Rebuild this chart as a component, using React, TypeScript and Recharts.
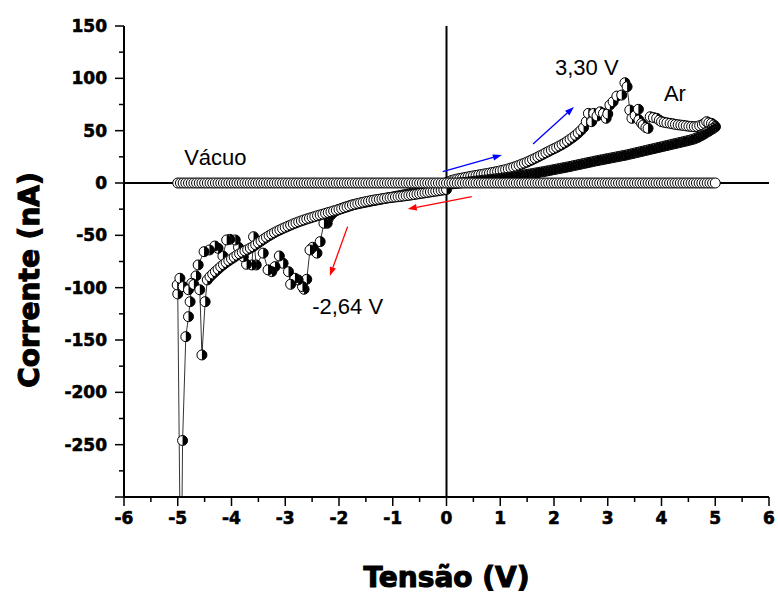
import {
  ScatterChart,
  Scatter,
  XAxis,
  YAxis,
  ReferenceLine,
  ReferenceDot,
  Label
} from 'recharts';

// tick values
const xTicks = [-6, -5.5, -5, -4.5, -4, -3.5, -3, -2.5, -2, -1.5, -1, -0.5, 0, 0.5, 1, 1.5, 2, 2.5, 3, 3.5, 4, 4.5, 5, 5.5, 6];
const yTicks = [-300, -275, -250, -225, -200, -175, -150, -125, -100, -75, -50, -25, 0, 25, 50, 75, 100, 125, 150];

// Vácuo: flat at 0 nA over the whole sweep
const vacuumV = [
  -5, -4.95, -4.9, -4.85, -4.8, -4.75, -4.7, -4.65, -4.6, -4.55, -4.5, -4.45, -4.4, -4.35, -4.3, -4.25, -4.2, -4.15, -4.1, -4.05,
  -4, -3.95, -3.9, -3.85, -3.8, -3.75, -3.7, -3.65, -3.6, -3.55, -3.5, -3.45, -3.4, -3.35, -3.3, -3.25, -3.2, -3.15, -3.1, -3.05,
  -3, -2.95, -2.9, -2.85, -2.8, -2.75, -2.7, -2.65, -2.6, -2.55, -2.5, -2.45, -2.4, -2.35, -2.3, -2.25, -2.2, -2.15, -2.1, -2.05,
  -2, -1.95, -1.9, -1.85, -1.8, -1.75, -1.7, -1.65, -1.6, -1.55, -1.5, -1.45, -1.4, -1.35, -1.3, -1.25, -1.2, -1.15, -1.1, -1.05,
  -1, -0.95, -0.9, -0.85, -0.8, -0.75, -0.7, -0.65, -0.6, -0.55, -0.5, -0.45, -0.4, -0.35, -0.3, -0.25, -0.2, -0.15, -0.1, -0.05,
  0, 0.05, 0.1, 0.15, 0.2, 0.25, 0.3, 0.35, 0.4, 0.45, 0.5, 0.55, 0.6, 0.65, 0.7, 0.75, 0.8, 0.85, 0.9, 0.95,
  1, 1.05, 1.1, 1.15, 1.2, 1.25, 1.3, 1.35, 1.4, 1.45, 1.5, 1.55, 1.6, 1.65, 1.7, 1.75, 1.8, 1.85, 1.9, 1.95,
  2, 2.05, 2.1, 2.15, 2.2, 2.25, 2.3, 2.35, 2.4, 2.45, 2.5, 2.55, 2.6, 2.65, 2.7, 2.75, 2.8, 2.85, 2.9, 2.95,
  3, 3.05, 3.1, 3.15, 3.2, 3.25, 3.3, 3.35, 3.4, 3.45, 3.5, 3.55, 3.6, 3.65, 3.7, 3.75, 3.8, 3.85, 3.9, 3.95,
  4, 4.05, 4.1, 4.15, 4.2, 4.25, 4.3, 4.35, 4.4, 4.45, 4.5, 4.55, 4.6, 4.65, 4.7, 4.75, 4.8, 4.85, 4.9, 4.95, 5
];
const vacuumCurrent = 0;

// Ar, sweep 0 -> +5 V (upper branch, peak at 3,30 V)
const arFwdPosV = [
  0, 0.05, 0.1, 0.15, 0.2, 0.25, 0.3, 0.35, 0.4, 0.45, 0.5, 0.55, 0.6, 0.65, 0.7, 0.75, 0.8, 0.85, 0.9, 0.95,
  1, 1.05, 1.1, 1.15, 1.2, 1.25, 1.3, 1.35, 1.4, 1.45, 1.5, 1.55, 1.6, 1.65, 1.7, 1.75, 1.8, 1.85, 1.9, 1.95,
  2, 2.05, 2.1, 2.15, 2.2, 2.25, 2.3, 2.35, 2.4, 2.45, 2.5, 2.55,
  2.6, 2.64, 2.7, 2.74, 2.8, 2.86, 2.92, 2.97, 3, 3.04, 3.1, 3.17, 3.26, 3.32, 3.36, 3.41, 3.45, 3.51, 3.57, 3.58,
  3.63, 3.66, 3.71, 3.75, 3.79, 3.85, 3.91, 3.96, 4, 4.05, 4.1, 4.16, 4.21, 4.26, 4.31, 4.36, 4.41, 4.46, 4.51, 4.56,
  4.61, 4.66, 4.71, 4.76, 4.8, 4.84, 4.88, 4.93, 4.97, 5
];
const arFwdPosI = [
  0.5, 1.5, 2.5, 3.2, 3.8, 4.3, 4.8, 5.3, 5.8, 6.3, 6.8, 7.2, 7.7, 8.1, 8.6, 9, 9.5, 10, 10.5, 11,
  11.6, 12.2, 12.8, 13.5, 14.3, 15.1, 16, 17, 18, 19, 20, 21.2, 22.4, 23.6, 24.9, 26.2, 27.5, 28.9, 30.2, 31.5,
  32.8, 34, 35.4, 36.8, 38.3, 40, 41.8, 43.6, 45.6, 47.8, 50.2, 53,
  58.6, 66.5, 58.6, 66.5, 64, 68, 66.5, 61.8, 66, 74.5, 77.7, 83, 84, 95.8, 92, 69.7, 61.8, 64.5, 70.4, 60.2,
  57, 55.4, 53, 52.2, 63.3, 62.5, 61.8, 60, 58.6, 58, 57.5, 57, 56.5, 56, 55.6, 55.3, 55, 54.6, 54.2, 54,
  53.8, 54, 54.8, 55.6, 57, 58.6, 57.5, 57, 55.5, 54
];

// Ar, sweep +5 -> 0 V (lower branch)
const arRetPosV = [
  5, 4.96, 4.92, 4.88, 4.84, 4.8, 4.76, 4.72, 4.68, 4.64, 4.6, 4.55, 4.5, 4.45, 4.4, 4.35, 4.3, 4.25, 4.2, 4.15,
  4.1, 4.05, 4, 3.95, 3.9, 3.85, 3.8, 3.75, 3.7, 3.65, 3.6, 3.55, 3.5, 3.45, 3.4, 3.35, 3.3, 3.25, 3.2, 3.15,
  3.1, 3.05, 3, 2.95, 2.9, 2.85, 2.8, 2.75, 2.7, 2.65, 2.6, 2.55, 2.5, 2.45, 2.4, 2.35, 2.3, 2.25, 2.2, 2.15,
  2.1, 2.05, 2, 1.95, 1.9, 1.85, 1.8, 1.75, 1.7, 1.65, 1.6, 1.55, 1.5, 1.45, 1.4, 1.35, 1.3, 1.25, 1.2, 1.15,
  1.1, 1.05, 1, 0.95, 0.9, 0.85, 0.8, 0.75, 0.7, 0.65, 0.6, 0.55, 0.5, 0.45, 0.4, 0.35, 0.3, 0.25, 0.2, 0.15,
  0.1, 0.05, 0
];
const arRetPosI = [
  53.5, 52, 50.8, 49.5, 48.5, 47, 45.8, 44.8, 43.6, 42.8, 42, 41.3, 40.6, 40, 39.4, 38.8, 38.2, 37.6, 37, 36.4,
  35.8, 35.2, 34.6, 34, 33.4, 32.8, 32.2, 31.6, 31, 30.4, 29.8, 29.2, 28.6, 28, 27.4, 26.8, 26.3, 25.8, 25.3, 24.8,
  24.3, 23.8, 23.3, 22.8, 22.3, 21.8, 21.3, 20.8, 20.2, 19.7, 19.1, 18.6, 18, 17.5, 16.9, 16.4, 15.8, 15.3, 14.8, 14.3,
  13.8, 13.3, 12.8, 12.3, 11.8, 11.3, 10.8, 10.4, 9.9, 9.5, 9, 8.6, 8.2, 7.8, 7.4, 7, 6.6, 6.2, 5.8, 5.5,
  5.1, 4.8, 4.5, 4.2, 3.9, 3.6, 3.3, 3, 2.7, 2.4, 2.1, 1.8, 1.5, 1.2, 0.9, 0.6, 0.3, 0, -0.3, -0.6,
  -0.9, -1.2, -1.5
];

// Ar, sweep 0 -> -5 V (noisy branch, minimum near -2,64 V)
const arFwdNegV = [
  0, -0.05, -0.1, -0.15, -0.2, -0.25, -0.3, -0.35, -0.4, -0.45, -0.5, -0.55, -0.6, -0.65, -0.7, -0.75, -0.8, -0.85, -0.9, -0.95,
  -1, -1.05, -1.1, -1.15, -1.2, -1.25, -1.3, -1.35, -1.4, -1.45, -1.5, -1.55, -1.6, -1.65, -1.7, -1.75, -1.8, -1.85, -1.9, -1.95,
  -2, -2.05, -2.1, -2.15, -2.2,
  -2.22, -2.28, -2.35, -2.41, -2.49, -2.54, -2.6, -2.65, -2.68, -2.76, -2.82, -2.9, -2.94, -3.04, -3.11, -3.19, -3.25, -3.32, -3.41, -3.54,
  -3.59, -3.62, -3.72, -3.78, -3.87, -3.93, -4.03, -4.09, -4.16, -4.25, -4.31, -4.41, -4.51, -4.62, -4.66, -4.74, -4.77, -4.8, -4.85, -4.91,
  -4.94, -5, -5.01, -4.96
];
const arFwdNegI = [
  -1, -2, -3, -3.8, -4.6, -5.3, -6, -6.6, -7.2, -7.8, -8.3, -8.8, -9.3, -9.8, -10.3, -10.8, -11.3, -11.8, -12.3, -12.8,
  -13.3, -13.8, -14.3, -14.8, -15.3, -15.8, -16.3, -16.8, -17.3, -17.8, -18.3, -18.8, -19.3, -19.8, -20.4, -21, -21.7, -22.5, -23.3, -24.2,
  -25.2, -26.4, -28, -30.5, -34,
  -38.5, -38.5, -56, -67, -61.4, -64, -92, -101.5, -99, -92.6, -91, -96.8, -84.7, -76.7, -69.7, -79.9, -84.7, -83, -67, -78.3,
  -51.3, -78.3, -77.7, -70.4, -61.4, -54.4, -53.8, -54.4, -69.7, -62.4, -60.2, -64, -65.6, -78.3, -88.8, -95.8, -113.4, -127.7, -146.8, -246,
  -420, -106, -97.4, -91
];

// Ar, sweep -5 -> 0 V (smooth branch)
const arRetNegV = [
  -4.9, -4.8, -4.7, -4.59, -4.55, -4.49, -4.45,
  -4.4, -4.35, -4.3, -4.25, -4.2, -4.15, -4.1, -4.05, -4, -3.95, -3.9, -3.85, -3.8, -3.75, -3.7, -3.65, -3.6, -3.55, -3.5, -3.45,
  -3.4, -3.35, -3.3, -3.25, -3.2, -3.15, -3.1, -3.05, -3, -2.95, -2.9, -2.85, -2.8, -2.75, -2.7, -2.65, -2.6, -2.55, -2.5, -2.45,
  -2.4, -2.35, -2.3, -2.25, -2.2, -2.15, -2.1, -2.05, -2, -1.95, -1.9, -1.85, -1.8, -1.75, -1.7, -1.65, -1.6, -1.55, -1.5, -1.45,
  -1.4, -1.35, -1.3, -1.25, -1.2, -1.15, -1.1, -1.05, -1, -0.95, -0.9, -0.85, -0.8, -0.75, -0.7, -0.65, -0.6, -0.55, -0.5, -0.45,
  -0.4, -0.35, -0.3, -0.25, -0.2, -0.15, -0.1, -0.05, 0
];
const arRetNegI = [
  -99, -102, -97, -102, -164.3, -113.4, -92.6,
  -89.5, -87, -84.6, -82.3, -80, -78, -76, -74.2, -72.5, -70.8, -69, -67.6, -66.2, -64.9, -63.6, -62.2, -60.8, -59, -57.2, -55.4,
  -53.6, -51.9, -50.3, -48.8, -47.4, -46, -44.8, -43.6, -42.4, -41.3, -40.2, -39.1, -38.1, -37.1, -36.2, -35.3, -34.4, -33.6, -32.8, -32,
  -31.2, -30.5, -29.8, -29, -28.2, -27.5, -26.7, -26, -25.2, -24.5, -23.6, -22.8, -21.9, -21, -20.3, -19.6, -19, -18.4, -17.8, -17.3,
  -16.8, -16.3, -15.9, -15.5, -15.1, -14.7, -14.3, -14, -13.7, -13.4, -13.1, -12.8, -12.5, -12.1, -11.8, -11.4, -11, -10.6, -10.2, -9.8,
  -9.4, -9, -8.6, -8.2, -7.8, -7.4, -7, -6.6, -6.2
];

const pair = (vs: number[], is: number[]) => vs.map((v, k) => ({ v, i: is[k] }));

const arData = [
  ...pair(arFwdPosV, arFwdPosI),
  ...pair(arRetPosV, arRetPosI),
  ...pair(arFwdNegV, arFwdNegI),
  ...pair(arRetNegV, arRetNegI)
];
const vacuumData = vacuumV.map((v) => ({ v, i: vacuumCurrent }));

const TICK_FONT = '"DejaVu Sans", "Liberation Sans", Arial, sans-serif';
const TEXT_FONT = '"Liberation Sans", Arial, sans-serif';

const HalfDot = (p: any) => {
  const { cx, cy } = p;
  if (cx == null || cy == null) return <g />;
  const r = 5;
  return (
    <g>
      <circle cx={cx} cy={cy} r={r} fill="#fff" stroke="#000" strokeWidth={1} />
      <path d={`M${cx},${cy - r} A${r},${r} 0 0,1 ${cx},${cy + r} Z`} fill="#000" />
    </g>
  );
};

const OpenDot = (p: any) => {
  const { cx, cy } = p;
  if (cx == null || cy == null) return <g />;
  return <circle cx={cx} cy={cy} r={5} fill="#fff" stroke="#000" strokeWidth={1} />;
};

const BottomTick = (p: any) => {
  const { x, y, payload } = p;
  const major = Number.isInteger(payload.value);
  return (
    <g>
      <line x1={x} y1={y} x2={x} y2={y + (major ? 9 : 5)} stroke="#000" strokeWidth={1.5} />
      {major && (
        <text
          x={x}
          y={y + 27}
          textAnchor="middle"
          fontFamily={TICK_FONT}
          fontWeight="bold"
          fontSize={17}
          fill="#000"
          stroke="#000"
          strokeWidth={0.6}
        >
          {payload.value}
        </text>
      )}
    </g>
  );
};

const TopTick = (p: any) => {
  const { x, y, payload } = p;
  const major = Number.isInteger(payload.value);
  return <line x1={x} y1={y} x2={x} y2={y + (major ? 9 : 5)} stroke="#000" strokeWidth={1.5} />;
};

const LeftTick = (p: any) => {
  const { x, y, payload } = p;
  const major = payload.value % 50 === 0;
  return (
    <g>
      <line x1={x - (major ? 9 : 5)} y1={y} x2={x} y2={y} stroke="#000" strokeWidth={1.5} />
      {major && payload.value !== -300 && (
        <text
          x={x - 17}
          y={y + 6}
          textAnchor="end"
          fontFamily={TICK_FONT}
          fontWeight="bold"
          fontSize={17}
          fill="#000"
          stroke="#000"
          strokeWidth={0.6}
        >
          {payload.value}
        </text>
      )}
    </g>
  );
};

const RightTick = (p: any) => {
  const { x, y, payload } = p;
  const major = payload.value % 50 === 0;
  return <line x1={x - (major ? 9 : 5)} y1={y} x2={x} y2={y} stroke="#000" strokeWidth={1.5} />;
};

const arrow = (color: string) => (p: any) => {
  const { x1, y1, x2, y2 } = p;
  if (x1 == null) return <g />;
  const a = Math.atan2(y2 - y1, x2 - x1);
  const len = 9;
  const w = 3.2;
  const bx = x2 - len * Math.cos(a);
  const by = y2 - len * Math.sin(a);
  const px = -Math.sin(a) * w;
  const py = Math.cos(a) * w;
  return (
    <g>
      <line x1={x1} y1={y1} x2={bx} y2={by} stroke={color} strokeWidth={1.3} />
      <polygon points={`${x2},${y2} ${bx + px},${by + py} ${bx - px},${by - py}`} fill={color} />
    </g>
  );
};

const note = (text: string) => (p: any) => {
  const vb = p.viewBox || {};
  const cx = vb.x + (vb.width || 0) / 2;
  const cy = vb.y + (vb.height || 0) / 2;
  return (
    <text x={cx} y={cy} dy="0.36em" textAnchor="middle" fontFamily={TEXT_FONT} fontSize={22} fill="#000">
      {text}
    </text>
  );
};

const notes = [
  { text: 'Vácuo', v: -4.3, i: 24.4 },
  { text: '3,30 V', v: 2.61, i: 110.8 },
  { text: 'Ar', v: 4.25, i: 85.5 },
  { text: '-2,64 V', v: -1.84, i: -118 }
];

const arrows = [
  { color: '#0000ff', from: { x: -0.07, y: 10.8 }, to: { x: 1.03, y: 26.7 } },
  { color: '#0000ff', from: { x: 1.61, y: 37.2 }, to: { x: 2.37, y: 72.6 } },
  { color: '#ff0000', from: { x: 0.47, y: -13.1 }, to: { x: -0.72, y: -24.8 } },
  { color: '#ff0000', from: { x: -1.84, y: -41.7 }, to: { x: -2.17, y: -88.8 } }
];

export default function App() {
  return (
    <div style={{ position: 'absolute', left: 0, top: 0, width: 778, height: 594, background: '#fff' }}>
      <ScatterChart width={778} height={594} margin={{ top: 26, right: 9, bottom: 0, left: 0 }}>
        <XAxis
          dataKey="v"
          type="number"
          domain={[-6, 6]}
          ticks={xTicks}
          interval={0}
          allowDataOverflow
          height={97}
          tickSize={0}
          tickMargin={0}
          tickLine={false}
          tick={<BottomTick />}
          axisLine={{ stroke: '#000', strokeWidth: 2 }}
        >
          <Label
            content={() => (
              <text
                x={446.5}
                y={577}
                dy="0.36em"
                textAnchor="middle"
                fontFamily={TICK_FONT}
                fontWeight="bold"
                fontSize={28}
                fill="#000"
                stroke="#000"
                strokeWidth={1.1}
              >
                Tensão (V)
              </text>
            )}
          />
        </XAxis>
        <XAxis
          xAxisId="top"
          orientation="top"
          type="number"
          domain={[-6, 6]}
          ticks={xTicks}
          interval={0}
          allowDataOverflow
          height={0}
          tickSize={0}
          tickMargin={0}
          tickLine={false}
          tick={<TopTick />}
          axisLine={{ stroke: '#000', strokeWidth: 2 }}
        />
        <YAxis
          dataKey="i"
          type="number"
          domain={[-300, 150]}
          ticks={yTicks}
          interval={0}
          allowDataOverflow
          width={124}
          tickSize={0}
          tickMargin={0}
          tickLine={false}
          tick={<LeftTick />}
          axisLine={{ stroke: '#000', strokeWidth: 2 }}
        >
          <Label
            content={() => (
              <text
                x={29}
                y={280}
                dy="0.36em"
                textAnchor="middle"
                transform="rotate(-90 29 280)"
                fontFamily={TICK_FONT}
                fontWeight="bold"
                fontSize={28}
                fill="#000"
                stroke="#000"
                strokeWidth={1.1}
              >
                Corrente (nA)
              </text>
            )}
          />
        </YAxis>
        <YAxis
          yAxisId="right"
          orientation="right"
          type="number"
          domain={[-300, 150]}
          ticks={yTicks}
          interval={0}
          allowDataOverflow
          width={0}
          tickSize={0}
          tickMargin={0}
          tickLine={false}
          tick={<RightTick />}
          axisLine={{ stroke: '#000', strokeWidth: 2 }}
        />

        <ReferenceLine y={0} stroke="#000" strokeWidth={2} />
        <ReferenceLine x={0} stroke="#000" strokeWidth={2} />

        <Scatter
          data={arData}
          line={{ stroke: '#000', strokeWidth: 0.8 }}
          lineType="joint"
          shape={<HalfDot />}
          isAnimationActive={false}
        />
        <Scatter
          data={vacuumData}
          line={{ stroke: '#000', strokeWidth: 1 }}
          lineType="joint"
          shape={<OpenDot />}
          isAnimationActive={false}
        />

        {arrows.map((a, k) => (
          <ReferenceLine key={`arrow-${k}`} segment={[a.from, a.to]} stroke={a.color} shape={arrow(a.color)} />
        ))}
        {notes.map((n) => (
          <ReferenceDot key={n.text} x={n.v} y={n.i} r={0} fill="none" stroke="none" label={note(n.text)} />
        ))}
      </ScatterChart>
    </div>
  );
}
